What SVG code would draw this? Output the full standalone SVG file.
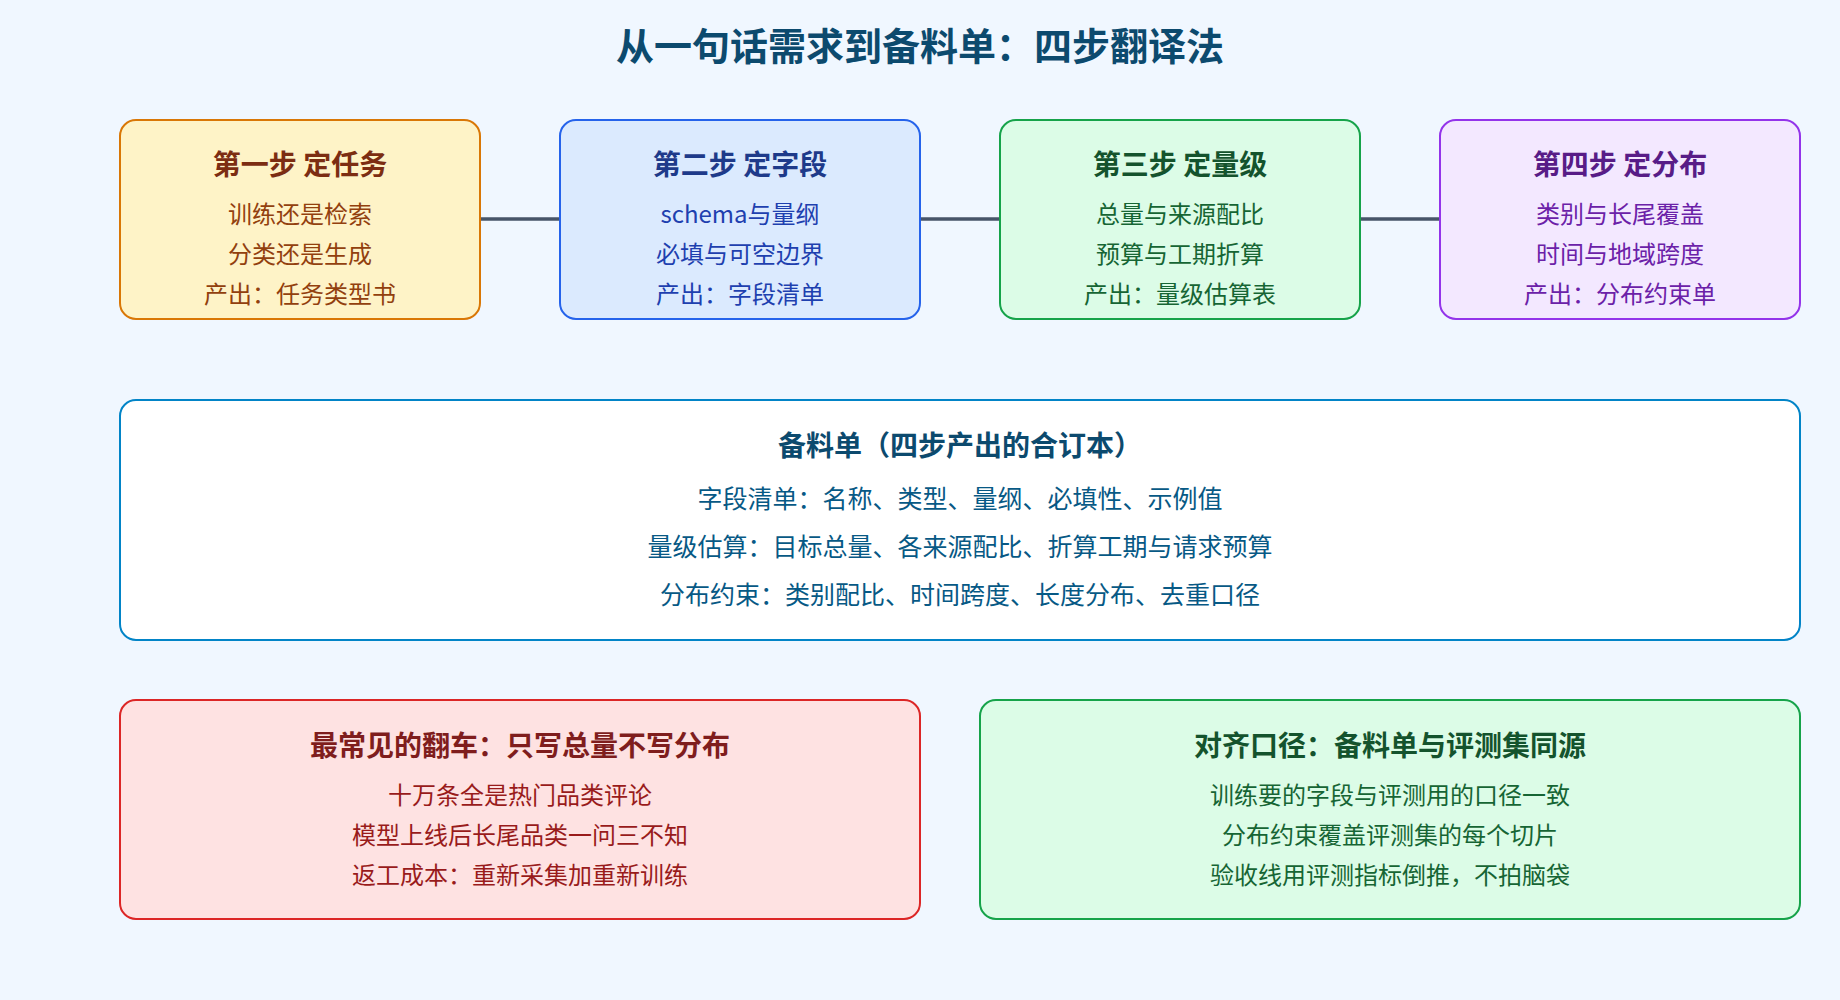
<svg xmlns="http://www.w3.org/2000/svg" width="1840" height="1000" viewBox="0 0 1840 1000">
<style>
text{font-family:"Noto Sans CJK SC","Noto Sans",sans-serif;text-anchor:middle}
.h{font-size:28px;font-weight:bold}
.b{font-size:24px}
.m{font-size:25px}
.c{stroke:#475569;stroke-width:3.5;fill:none}
</style>
<rect width="1840" height="1000" fill="#f0f7ff"/>
<text x="920" y="60" style="font-size:38px;font-weight:bold" fill="#0c4a6e">从一句话需求到备料单：四步翻译法</text>
<g id="connectors">
<line class="c" x1="480" y1="219" x2="560" y2="219"/>
<line class="c" x1="920" y1="219" x2="1000" y2="219"/>
<line class="c" x1="1360" y1="219" x2="1440" y2="219"/>
</g>
<g id="step1">
<rect x="120" y="120" width="360" height="199" rx="16" fill="#fef3c7" stroke="#d97706" stroke-width="2"/>
<text class="h" x="300" y="175" fill="#7c2d12">第一步 定任务</text>
<text class="b" x="300" y="223" fill="#92400e">训练还是检索</text>
<text class="b" x="300" y="263" fill="#92400e">分类还是生成</text>
<text class="b" x="300" y="303" fill="#92400e">产出：任务类型书</text>
</g>
<g id="step2">
<rect x="560" y="120" width="360" height="199" rx="16" fill="#dbeafe" stroke="#2563eb" stroke-width="2"/>
<text class="h" x="740" y="175" fill="#1e3a8a">第二步 定字段</text>
<text class="b" x="740" y="223" fill="#1e40af">schema与量纲</text>
<text class="b" x="740" y="263" fill="#1e40af">必填与可空边界</text>
<text class="b" x="740" y="303" fill="#1e40af">产出：字段清单</text>
</g>
<g id="step3">
<rect x="1000" y="120" width="360" height="199" rx="16" fill="#dcfce7" stroke="#16a34a" stroke-width="2"/>
<text class="h" x="1180" y="175" fill="#14532d">第三步 定量级</text>
<text class="b" x="1180" y="223" fill="#166534">总量与来源配比</text>
<text class="b" x="1180" y="263" fill="#166534">预算与工期折算</text>
<text class="b" x="1180" y="303" fill="#166534">产出：量级估算表</text>
</g>
<g id="step4">
<rect x="1440" y="120" width="360" height="199" rx="16" fill="#f3e8ff" stroke="#9333ea" stroke-width="2"/>
<text class="h" x="1620" y="175" fill="#581c87">第四步 定分布</text>
<text class="b" x="1620" y="223" fill="#6b21a8">类别与长尾覆盖</text>
<text class="b" x="1620" y="263" fill="#6b21a8">时间与地域跨度</text>
<text class="b" x="1620" y="303" fill="#6b21a8">产出：分布约束单</text>
</g>
<g id="summary">
<rect x="120" y="400" width="1680" height="240" rx="16" fill="#ffffff" stroke="#0284c7" stroke-width="2"/>
<text class="h" x="960" y="456" fill="#0c4a6e">备料单（四步产出的合订本）</text>
<text class="m" x="960" y="508" fill="#075985">字段清单：名称、类型、量纲、必填性、示例值</text>
<text class="m" x="960" y="556" fill="#075985">量级估算：目标总量、各来源配比、折算工期与请求预算</text>
<text class="m" x="960" y="604" fill="#075985">分布约束：类别配比、时间跨度、长度分布、去重口径</text>
</g>
<g id="pitfall">
<rect x="120" y="700" width="800" height="219" rx="16" fill="#fee2e2" stroke="#dc2626" stroke-width="2"/>
<text class="h" x="520" y="756" fill="#7f1d1d">最常见的翻车：只写总量不写分布</text>
<text class="b" x="520" y="804" fill="#991b1b">十万条全是热门品类评论</text>
<text class="b" x="520" y="844" fill="#991b1b">模型上线后长尾品类一问三不知</text>
<text class="b" x="520" y="884" fill="#991b1b">返工成本：重新采集加重新训练</text>
</g>
<g id="align">
<rect x="980" y="700" width="820" height="219" rx="16" fill="#dcfce7" stroke="#16a34a" stroke-width="2"/>
<text class="h" x="1390" y="756" fill="#14532d">对齐口径：备料单与评测集同源</text>
<text class="b" x="1390" y="804" fill="#166534">训练要的字段与评测用的口径一致</text>
<text class="b" x="1390" y="844" fill="#166534">分布约束覆盖评测集的每个切片</text>
<text class="b" x="1390" y="884" fill="#166534">验收线用评测指标倒推，不拍脑袋</text>
</g>
</svg>
